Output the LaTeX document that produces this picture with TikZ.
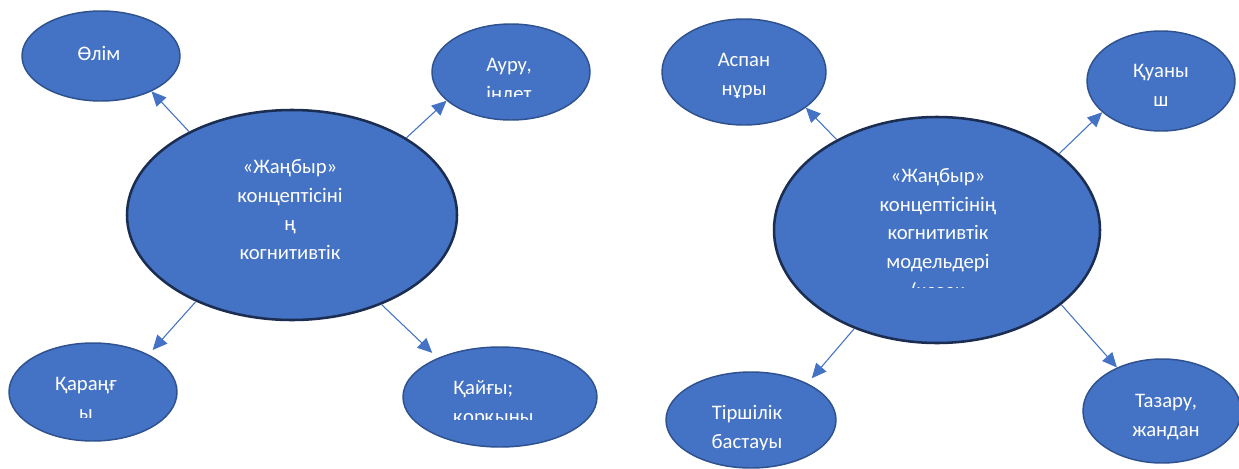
\documentclass[tikz,border=0pt]{standalone}
\usepackage{fontspec}
\setmainfont{Carlito}
\usetikzlibrary{shapes.geometric,arrows.meta}
\definecolor{fillblue}{HTML}{4472C4}
\definecolor{edgeblue}{HTML}{2F528F}
\definecolor{edgedark}{HTML}{1B2D50}
\begin{document}
\begin{tikzpicture}[x=0.75pt,y=-0.75pt,
  leaf/.style={ellipse,draw=edgeblue,line width=1.1pt,fill=fillblue,inner sep=0pt},
  hub/.style={ellipse,draw=edgedark,line width=1.9pt,fill=fillblue,inner sep=0pt},
  lbl/.style={text=white,font=\fontsize{15.5}{21.4}\selectfont,align=center,anchor=base,inner sep=0pt},
  link/.style={draw=fillblue,line width=0.8pt,-{Triangle[length=11pt,width=10pt]}}]
\useasboundingbox (0,0) rectangle (1239,468);
\fill[white] (0,0) rectangle (1239,468);

% ---- left diagram ----
\node[leaf,minimum width=118.5pt,minimum height=67.5pt] (olim) at (101,56) {};
\node[leaf,minimum width=118.5pt,minimum height=72pt] (auru) at (511,72) {};
\node[hub,minimum width=247.5pt,minimum height=157.5pt] (hubA) at (292,215) {};
\node[leaf,minimum width=126pt,minimum height=73.5pt] (karangy) at (93,392) {};
\node[leaf,minimum width=145.5pt,minimum height=75pt] (kaygy) at (500,397) {};

% anchor=base sits on the baseline of the last line
\node[lbl] (tolim) at (99,60) {Өлім};
\begin{scope}
  \clip (440,30) rectangle (590,96);
  \node[lbl] (tauru) at (509,100.5) {Ауру,\\індет};
\end{scope}
\node[lbl] (thubA) at (290,259.5) {«Жаңбыр»\\концептісіні\\ң\\когнитивтік};
\begin{scope}
  \clip (20,340) rectangle (170,417);
  \node[lbl] (tkarangy) at (86,419.5) {Қараңғ\\ы};
\end{scope}
\begin{scope}
  \clip (410,345) rectangle (595,419);
  \node[lbl,align=left,anchor=base west] (tkaygy) at (453,423.5) {Қайғы;\\қорқыны};
\end{scope}

\draw[link] (hubA.141.4) -- (olim.-35.2);
\draw[link] (hubA.34.6) -- (auru.204);
\draw[link,shorten >=4.5pt] (hubA.222.8) -- (karangy.34.8);
\draw[link,shorten >=5.5pt] (hubA.-45.6) -- (kaygy.148.7);

% ---- right diagram ----
\node[leaf,minimum width=123pt,minimum height=79.5pt] (aspan) at (744,72) {};
\node[leaf,minimum width=111pt,minimum height=75pt] (kuanysh) at (1161,81) {};
\node[hub,minimum width=244.5pt,minimum height=169.5pt] (hubB) at (937,230) {};
\node[leaf,minimum width=127.5pt,minimum height=72pt] (tirshilik) at (751,420) {};
\node[leaf,minimum width=118.5pt,minimum height=78pt] (tazaru) at (1162,411) {};

\begin{scope}
  \clip (670,20) rectangle (820,97);
  \node[lbl] (taspan) at (744,95.5) {Аспан\\нұры};
\end{scope}
\node[lbl] (tkuanysh) at (1161,106.5) {Қуаны\\ш};
\begin{scope}
  \clip (800,120) rectangle (1080,287);
  \node[lbl] (thubB) at (938,297) {«Жаңбыр»\\концептісінің\\когнитивтік\\модельдері\\(қазақ};
\end{scope}
\begin{scope}
  \clip (670,380) rectangle (830,449);
  \node[lbl] (ttirshilik) at (747,448.5) {Тіршілік\\бастауы};
\end{scope}
\node[lbl] (ttazaru) at (1166,436) {Тазару,\\жандан};

\draw[link] (hubB.138.9) -- (aspan.-30.5);
\draw[link] (hubB.32.1) -- (kuanysh.208.1);
\draw[link,shorten >=5pt] (hubB.230.1) -- (tirshilik.33.3);
\draw[link] (hubB.-31.9) -- (tazaru.136.3);
\end{tikzpicture}
\end{document}
